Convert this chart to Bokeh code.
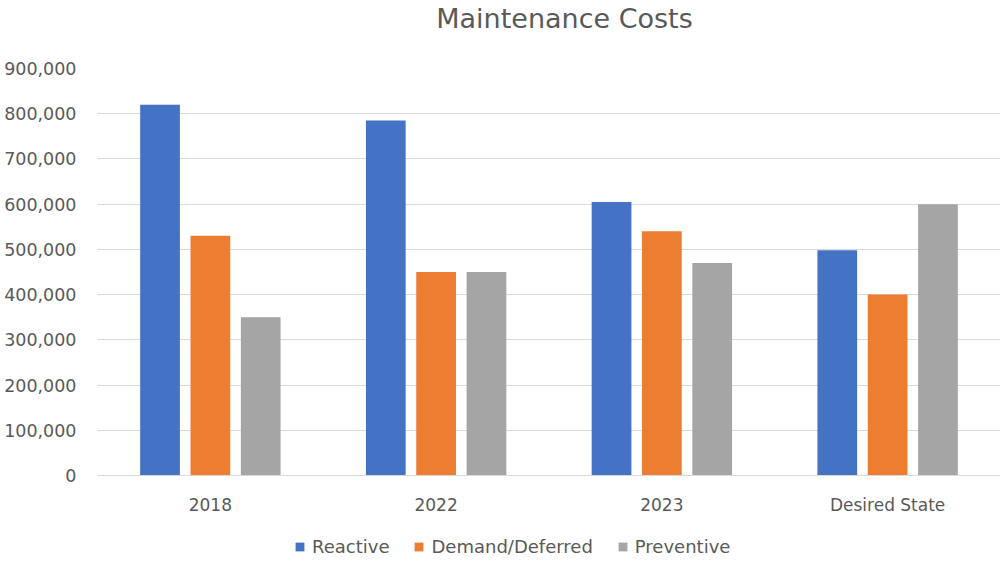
from bokeh.plotting import figure
from bokeh.models import (FactorRange, Range1d, NumeralTickFormatter, Legend, LegendItem,
                          ColumnDataSource, FixedTicker, Label)
from bokeh.layouts import column
from bokeh.transform import dodge
from bokeh.embed import file_html
from bokeh.resources import INLINE

categories = ["2018", "2022", "2023", "Desired State"]
reactive = [820000, 785000, 605000, 498000]
demand_deferred = [530000, 450000, 540000, 400000]
preventive = [350000, 450000, 470000, 600000]
series_names = ["Reactive", "Demand/Deferred", "Preventive"]
colors = ["#4472C4", "#ED7D31", "#A5A5A5"]
y_ticks = [0, 100000, 200000, 300000, 400000, 500000, 600000, 700000, 800000, 900000]
title_text = "Maintenance Costs"

FONT = "DejaVu Sans"
TXT = "#595959"
W = 1000
LEFT = 97

source = ColumnDataSource(dict(cat=categories, r=reactive, d=demand_deferred, p=preventive))
cols = ["r", "d", "p"]
offsets = [-0.223, 0.0, 0.223]


def strip(h):
    f = figure(width=W, height=h, output_backend="svg", toolbar_location=None,
               x_range=FactorRange(*categories, range_padding=0),
               y_range=Range1d(0, 1),
               min_border_left=LEFT, min_border_right=0,
               min_border_top=0, min_border_bottom=0)
    f.axis.visible = False
    f.grid.visible = False
    f.outline_line_color = None
    return f


# ---- title strip ----
t = strip(40)
t.add_layout(Label(x=467, y=22, x_units="screen", y_units="screen", text=title_text,
                   text_align="center", text_baseline="alphabetic", text_font=FONT,
                   text_font_size="27px", text_color=TXT))

# ---- main chart ----
p = figure(x_range=FactorRange(*categories, range_padding=0),
           y_range=Range1d(0, 900000),
           width=W, height=477, output_backend="svg", toolbar_location=None,
           min_border_left=LEFT, min_border_right=0, min_border_top=28, min_border_bottom=42)

for col, off, color in zip(cols, offsets, colors):
    p.vbar(x=dodge("cat", off, range=p.x_range), top=col, width=0.176, bottom=0,
           source=source, fill_color=color, line_color=None)

p.yaxis.ticker = FixedTicker(ticks=y_ticks)
p.yaxis.formatter = NumeralTickFormatter(format="0,0")
p.yaxis.axis_line_color = None
p.yaxis.major_tick_line_color = None
p.yaxis.minor_tick_line_color = None
p.yaxis.major_tick_out = 0
p.yaxis.major_tick_in = 0
p.yaxis.major_label_standoff = 21
p.yaxis.major_label_text_font = FONT
p.yaxis.major_label_text_font_size = "17.5px"
p.yaxis.major_label_text_color = TXT

p.xaxis.axis_line_color = "#d9d9d9"
p.xaxis.major_tick_line_color = None
p.xaxis.minor_tick_line_color = None
p.xaxis.major_tick_out = 0
p.xaxis.major_tick_in = 0
p.xaxis.major_label_standoff = 19
p.xaxis.major_label_text_font = FONT
p.xaxis.major_label_text_font_size = "17px"
p.xaxis.major_label_text_color = TXT

p.xgrid.grid_line_color = None
p.ygrid.grid_line_color = "#d9d9d9"
p.ygrid.grid_line_width = 1
p.outline_line_color = None

# ---- legend strip (hidden proxy renderers supply the legend swatches) ----
lg = strip(41)
items = []
for name, col, off, color in zip(series_names, cols, offsets, colors):
    r = lg.vbar(x=dodge("cat", off, range=lg.x_range), top=col, bottom=0, width=0.176,
                source=source, fill_color=color, line_color=None, visible=False)
    items.append(LegendItem(label=name, renderers=[r]))
legend = Legend(items=items, orientation="horizontal", location=(197, 1),
                label_text_font=FONT, label_text_font_size="18px", label_text_color=TXT,
                glyph_width=11, glyph_height=11, label_standoff=7, spacing=24,
                border_line_color=None, background_fill_alpha=0, padding=0, margin=0)
lg.add_layout(legend, "center")

layout = column(t, p, lg, spacing=0)
open("out.html", "w").write(file_html(layout, INLINE))
